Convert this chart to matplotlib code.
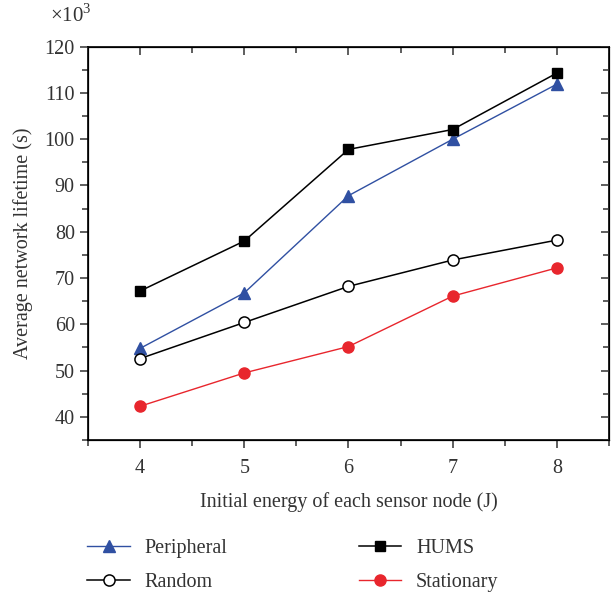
import matplotlib
matplotlib.use("Agg")
import matplotlib.pyplot as plt
from matplotlib.ticker import MultipleLocator

energy = [4, 5, 6, 7, 8]
peripheral = [54.8, 66.8, 87.8, 100.0, 111.9]
hums = [67.2, 78.0, 97.8, 102.1, 114.3]
random_ = [52.6, 60.4, 68.2, 73.9, 78.2]
stationary = [42.3, 49.5, 55.2, 66.1, 72.2]

xlabel = "Initial energy of each sensor node (J)"
ylabel = "Average network lifetime (s)"

txt = "#333333"
plt.rcParams['font.family'] = ['Liberation Serif', 'DejaVu Serif']
plt.rcParams['text.color'] = txt
plt.rcParams['axes.labelcolor'] = txt
plt.rcParams['xtick.color'] = txt
plt.rcParams['ytick.color'] = txt
plt.rcParams['mathtext.fontset'] = 'custom'
plt.rcParams['mathtext.rm'] = 'Liberation Serif'

fig = plt.figure(figsize=(6.11, 5.96), dpi=100)
ax = fig.add_axes([0.144, 0.2617, 0.8527, 0.66])

blue = "#3050a2"
red = "#e8262d"
ax.plot(energy, peripheral, color=blue, lw=1.0, marker='^', ms=8.5, mfc=blue, mec=blue, label='Peripheral')
ax.plot(energy, random_, color='black', lw=1.1, marker='o', ms=8, mfc='white', mec='black', mew=1.1, label='Random')
ax.plot(energy, hums, color='black', lw=1.1, marker='s', ms=7, mfc='black', mec='black', label='HUMS')
ax.plot(energy, stationary, color=red, lw=1.0, marker='o', ms=8, mfc=red, mec=red, label='Stationary')

ax.set_xlim(3.5, 8.5)
ax.set_ylim(35, 120)
ax.xaxis.set_major_locator(MultipleLocator(1))
ax.xaxis.set_minor_locator(MultipleLocator(0.5))
ax.yaxis.set_major_locator(MultipleLocator(10))
ax.yaxis.set_minor_locator(MultipleLocator(5))
ax.set_yticks(range(40, 121, 10))
for s in ax.spines.values():
    s.set_linewidth(1.2)
ax.tick_params(which='both', direction='out', labelsize=14.5, width=1.1)
ax.tick_params(which='major', length=6)
ax.tick_params(which='minor', length=4)
ax.tick_params(axis='x', pad=8)

# inward ticks on top and right
axt = ax.twiny()
axt.set_xlim(ax.get_xlim())
axt.xaxis.set_major_locator(MultipleLocator(1))
axt.xaxis.set_minor_locator(MultipleLocator(0.5))
axt.tick_params(which='both', direction='in', labeltop=False, width=1.1)
axt.tick_params(which='major', length=6)
axt.tick_params(which='minor', length=4)
axr = ax.twinx()
axr.set_ylim(ax.get_ylim())
axr.yaxis.set_major_locator(MultipleLocator(10))
axr.yaxis.set_minor_locator(MultipleLocator(5))
axr.tick_params(which='both', direction='in', labelright=False, width=1.1)
axr.tick_params(which='major', length=6)
axr.tick_params(which='minor', length=4)

ax.set_xlabel(xlabel, fontsize=14.5, labelpad=10)
ax.set_ylabel(ylabel, fontsize=14.5, labelpad=8)
fig.text(0.082, 0.974, r"$\times10^3$", fontsize=15, ha='left', va='center', color=txt)

h, l = ax.get_legend_handles_labels()
fig.legend(h, l, loc='upper left', bbox_to_anchor=(0.13, 0.110), ncol=2, frameon=False,
           fontsize=14.5, columnspacing=6.5, handlelength=2.1, handletextpad=0.75,
           labelspacing=0.75, borderaxespad=0)

fig.savefig("out.png", dpi=100)
